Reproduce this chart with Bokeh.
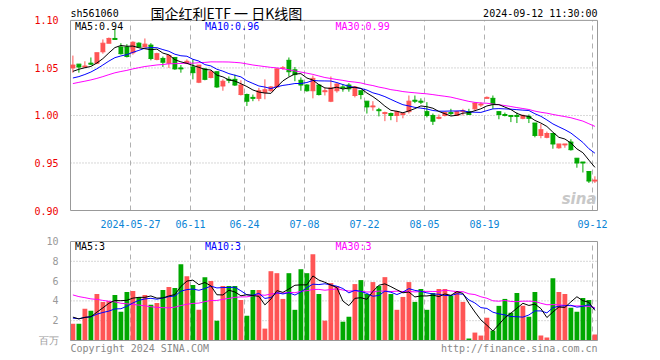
import numpy as np
import pandas as pd
from bokeh.plotting import figure
from bokeh.models import Range1d, FixedTicker, Label
from bokeh.layouts import column
from bokeh.embed import file_html
from bokeh.resources import INLINE

# ---------------- data ----------------
tick_index = [10, 20, 29, 39, 49, 59, 69, 87]
tick_labels = ["2024-05-27", "06-11", "06-24", "07-08", "07-22", "08-05", "08-19", "09-12"]

opens = [1.050, 1.054, 1.051, 1.055, 1.055, 1.067, 1.076, 1.081, 1.072, 1.072,
         1.066, 1.076, 1.072, 1.074, 1.059, 1.060, 1.055, 1.061, 1.050, 1.055,
         1.051, 1.035, 1.049, 1.040, 1.046, 1.031, 1.038, 1.038, 1.022, 1.022,
         1.019, 1.018, 1.024, 1.026, 1.030, 1.050, 1.058, 1.048, 1.037, 1.032,
         1.026, 1.032, 1.025, 1.015, 1.026, 1.030, 1.032, 1.021, 1.026, 1.015,
         1.009, 1.006, 1.002, 1.002, 1.000, 1.001, 1.004, 1.016, 1.015, 1.004,
         1.000, 0.997, 1.000, 1.003, 1.000, 1.004, 1.004, 1.007, 1.011, 1.018,
         1.018, 1.004, 1.001, 1.000, 1.000, 0.997, 0.999, 0.992, 0.979, 0.977,
         0.981, 0.966, 0.969, 0.972, 0.955, 0.951, 0.941, 0.931]
closes = [1.053, 1.051, 1.052, 1.054, 1.066, 1.076, 1.081, 1.080, 1.065, 1.062,
          1.077, 1.072, 1.075, 1.060, 1.065, 1.056, 1.063, 1.049, 1.049, 1.057,
          1.045, 1.053, 1.038, 1.046, 1.030, 1.036, 1.037, 1.032, 1.032, 1.015,
          1.018, 1.026, 1.027, 1.030, 1.049, 1.050, 1.046, 1.043, 1.032, 1.026,
          1.039, 1.022, 1.026, 1.029, 1.033, 1.029, 1.028, 1.030, 1.022, 1.009,
          1.010, 1.005, 1.003, 1.000, 1.004, 1.002, 1.015, 1.015, 1.014, 1.000,
          0.994, 0.998, 1.003, 1.002, 1.004, 1.005, 1.001, 1.013, 1.012, 1.019,
          1.012, 1.001, 1.000, 0.999, 0.999, 1.000, 0.997, 0.979, 0.985, 0.981,
          0.970, 0.970, 0.970, 0.964, 0.950, 0.950, 0.931, 0.932]
highs = [1.063, 1.054, 1.057, 1.061, 1.066, 1.080, 1.082, 1.091, 1.076, 1.075,
         1.078, 1.077, 1.081, 1.076, 1.066, 1.062, 1.064, 1.061, 1.053, 1.059,
         1.059, 1.053, 1.050, 1.048, 1.046, 1.038, 1.041, 1.043, 1.037, 1.023,
         1.022, 1.029, 1.038, 1.031, 1.050, 1.052, 1.061, 1.051, 1.040, 1.033,
         1.042, 1.033, 1.029, 1.041, 1.034, 1.033, 1.034, 1.031, 1.026, 1.015,
         1.015, 1.008, 1.004, 1.003, 1.005, 1.003, 1.021, 1.021, 1.018, 1.014,
         1.002, 1.001, 1.004, 1.007, 1.005, 1.007, 1.007, 1.014, 1.014, 1.020,
         1.021, 1.004, 1.003, 1.000, 1.003, 1.001, 1.001, 0.992, 0.991, 0.983,
         0.981, 0.970, 0.970, 0.975, 0.955, 0.951, 0.941, 0.936]
lows = [1.045, 1.045, 1.050, 1.053, 1.054, 1.065, 1.076, 1.080, 1.064, 1.061,
        1.064, 1.072, 1.072, 1.058, 1.058, 1.051, 1.050, 1.048, 1.045, 1.054,
        1.038, 1.034, 1.037, 1.039, 1.029, 1.026, 1.034, 1.031, 1.021, 1.010,
        1.015, 1.015, 1.017, 1.025, 1.029, 1.048, 1.041, 1.036, 1.026, 1.025,
        1.018, 1.021, 1.021, 1.014, 1.024, 1.025, 1.025, 1.019, 1.017, 1.002,
        1.005, 0.999, 0.994, 0.995, 0.993, 0.997, 1.002, 1.013, 1.012, 0.998,
        0.990, 0.996, 0.999, 1.000, 1.000, 1.000, 1.001, 1.005, 1.009, 1.018,
        1.007, 0.996, 0.999, 0.993, 0.992, 0.996, 0.992, 0.977, 0.976, 0.976,
        0.965, 0.965, 0.966, 0.963, 0.945, 0.940, 0.929, 0.929]
volumes = [1.7, 1.7, 3.2, 3.0, 4.7, 3.9, 4.0, 4.6, 2.9, 4.9,
           5.0, 4.4, 4.6, 3.6, 3.8, 5.1, 5.4, 5.3, 7.7, 6.5,
           5.6, 3.1, 6.4, 6.0, 2.0, 5.5, 5.5, 5.5, 4.1, 2.5,
           5.1, 5.1, 1.2, 7.0, 6.8, 4.2, 6.8, 3.1, 7.2, 6.8,
           8.7, 4.7, 2.0, 5.8, 5.5, 1.9, 2.4, 5.7, 6.1, 4.7,
           5.9, 5.5, 6.4, 4.7, 3.1, 4.4, 5.9, 3.9, 5.2, 3.1,
           4.8, 5.2, 5.2, 4.5, 5.0, 3.9, 0.2, 0.8, 0.5, 2.3,
           1.0, 3.5, 4.2, 2.8, 4.8, 3.5, 2.4, 4.9, 0.5, 0.3,
           6.3, 4.9, 4.7, 3.3, 2.9, 4.3, 4.1, 0.6]
# sessions before the visible window (estimated from the moving-average lines)
pre_close = [1.012, 1.015, 1.014, 1.018, 1.020, 1.019, 1.022, 1.024, 1.026, 1.030,
             1.034, 1.038, 1.036, 1.040, 1.042, 1.041, 1.044, 1.043, 1.046, 1.048,
             1.036, 1.030, 1.028, 1.032, 1.036, 1.040, 1.044, 1.047, 1.048]
pre_volume = [6.8, 6.4, 6.7, 6.2, 7.0, 6.5, 6.5, 7.2, 6.4, 6.9,
              6.6, 6.7, 6.3, 5.8, 6.1, 5.7, 3.4, 2.8, 2.6, 2.9,
              2.3, 1.9, 2.4, 2.0, 2.2, 2.6, 2.4, 2.7, 2.4]

price_ticks = [0.90, 0.95, 1.00, 1.05, 1.10]
price_grid = [0.95, 1.00, 1.05]
vol_ticks = [0, 2, 4, 6, 8, 10]
vol_grid = [2, 4, 6, 8]
price_ma_text = ["MA5:0.94", "MA10:0.96", "MA30:0.99"]
vol_ma_text = ["MA5:3", "MA10:3", "MA30:3"]

# ---------------- styling ----------------
UP = "#ff5555"
DOWN = "#00a800"
MONO = "DejaVu Sans Mono"
CJK = "Noto Sans CJK SC"
GRID = "#b0b0b0"
BORDER = "#999999"
W = 658

n = len(closes)
x = np.arange(n)
o = np.array(opens); c = np.array(closes)
colors = [UP if cc >= oo else DOWN for oo, cc in zip(o, c)]

def ma(series, w):
    return pd.Series(series).rolling(w).mean().to_numpy()[-n:]

all_c = pre_close + closes
all_v = pre_volume + volumes

PX = 6.0                      # pixels per session
X0 = -0.4                     # left border of the chart box
X1 = X0 + 527 / PX            # right border of the chart box
ticks = [i - 0.4 for i in tick_index]

def px_x(px):
    return X0 + (px - 70) / PX

P_PER_PX = 0.2 / 191.0        # price per pixel
def py_price(py):
    return 1.10 - (py - 20) * P_PER_PX

V_PER_PX = 10 / 99.0          # volume per pixel
def py_vol(py):
    return 10 - (py - 241) * V_PER_PX

# ---------------- price panel (frame reaches to the top of the page) ----------------
p = figure(width=W, height=230, title=None, output_backend="svg", toolbar_location=None,
           x_range=Range1d(X0 - 1 / PX, X1 + 1 / PX),
           y_range=Range1d(0.90 - P_PER_PX, py_price(0)),
           min_border_left=69, min_border_right=W - 598, min_border_top=0, min_border_bottom=18)
p.background_fill_color = "white"
p.border_fill_color = "white"
p.outline_line_color = None
p.grid.visible = False

p.yaxis.ticker = FixedTicker(ticks=price_ticks)
p.yaxis.major_label_overrides = {t: "%.2f" % t for t in price_ticks}
p.xaxis.ticker = FixedTicker(ticks=ticks)
p.xaxis.major_label_overrides = {t: l for t, l in zip(ticks, tick_labels)}
for ax, col in ((p.yaxis, "#ee0000"), (p.xaxis, "#0a84d6")):
    ax.axis_line_color = None
    ax.major_tick_line_color = None
    ax.minor_tick_line_color = None
    ax.major_label_text_font = MONO
    ax.major_label_text_font_size = "10px"
    ax.major_label_text_color = col
p.yaxis.major_label_standoff = 5
p.xaxis.major_label_standoff = 2

# grid and box
p.segment(x0=ticks, y0=0.90, x1=ticks, y1=1.10, line_color=GRID, line_dash="5 4", line_width=1)
p.segment(x0=X0, y0=price_grid, x1=X1, y1=price_grid, line_color=GRID, line_dash="1 2", line_width=1)
p.quad(left=X0, right=X1, bottom=0.90, top=1.10, fill_color=None, line_color=BORDER, line_width=1)

body_top = np.maximum(o, c)
body_bot = np.minimum(o, c)
p.segment(x0=x, y0=highs, x1=x, y1=lows, line_color=colors, line_width=1)
p.vbar(x=x, top=body_top, bottom=body_bot, width=0.8, fill_color=colors, line_color=None)
p.segment(x0=x - 0.4, y0=c, x1=x + 0.4, y1=c, line_color=colors, line_width=1)
p.segment(x0=x - 0.4, y0=o, x1=x + 0.4, y1=o, line_color=colors, line_width=1)

p.line(x, ma(all_c, 30), line_color="#ff00ff", line_width=1)
p.line(x, ma(all_c, 10), line_color="#0000ff", line_width=1)
p.line(x, ma(all_c, 5), line_color="black", line_width=1)

for txt, xx, col in zip(price_ma_text, (74.5, 204.5, 335), ("black", "#0000ff", "#ff00ff")):
    p.add_layout(Label(x=px_x(xx), y=py_price(26.5), text=txt, text_font=MONO,
                       text_font_size="10px", text_color=col, text_baseline="middle"))

p.add_layout(Label(x=px_x(70), y=py_price(13), text="sh561060", text_font=MONO,
                   text_font_size="10px", text_color="black", text_baseline="middle"))
p.add_layout(Label(x=px_x(150), y=py_price(12.5), text="国企红利ETF 一 日K线图", text_font=CJK,
                   text_font_size="14px", text_color="black", text_baseline="middle"))
p.add_layout(Label(x=px_x(597), y=py_price(13), text="2024-09-12 11:30:00", text_font=MONO,
                   text_font_size="10px", text_color="black", text_baseline="middle",
                   text_align="right"))
p.add_layout(Label(x=px_x(596), y=py_price(199), text="sina", text_font="DejaVu Sans",
                   text_font_size="15px", text_font_style="bold italic", text_color="#c8c8c8",
                   text_baseline="middle", text_align="right"))

# ---------------- volume panel (frame reaches to the bottom of the page) ----------------
v = figure(width=W, height=128, title=None, output_backend="svg", toolbar_location=None,
           x_range=p.x_range, y_range=Range1d(py_vol(358), py_vol(240)), x_axis_location=None,
           min_border_left=69, min_border_right=W - 598, min_border_top=10, min_border_bottom=0)
v.background_fill_color = "white"
v.border_fill_color = "white"
v.outline_line_color = None
v.grid.visible = False

v.yaxis.ticker = FixedTicker(ticks=vol_ticks)
v.yaxis.major_label_overrides = {0: "百万"}
v.yaxis.axis_line_color = None
v.yaxis.major_tick_line_color = None
v.yaxis.minor_tick_line_color = None
v.yaxis.major_label_text_font = MONO
v.yaxis.major_label_text_font_size = "10px"
v.yaxis.major_label_text_color = "#999999"
v.yaxis.major_label_standoff = 5

v.segment(x0=ticks, y0=0, x1=ticks, y1=10, line_color=GRID, line_dash="5 4", line_width=1)
v.segment(x0=X0, y0=vol_grid, x1=X1, y1=vol_grid, line_color=GRID, line_dash="1 2", line_width=1)

v.vbar(x=x, top=volumes, bottom=0, width=0.8, fill_color=colors, line_color=None)
v.line(x, ma(all_v, 30), line_color="#ff00ff", line_width=1)
v.line(x, ma(all_v, 10), line_color="#0000ff", line_width=1)
v.line(x, ma(all_v, 5), line_color="black", line_width=1)
v.quad(left=X0, right=X1, bottom=0, top=10, fill_color=None, line_color=BORDER, line_width=1)

for txt, xx, col in zip(vol_ma_text, (74.5, 204.5, 335), ("black", "#0000ff", "#ff00ff")):
    v.add_layout(Label(x=px_x(xx), y=py_vol(246), text=txt, text_font=MONO,
                       text_font_size="10px", text_color=col, text_baseline="middle"))
v.add_layout(Label(x=px_x(70), y=py_vol(347.5), text="Copyright 2024 SINA.COM", text_font=MONO,
                   text_font_size="10px", text_color="#888888", text_baseline="middle"))
v.add_layout(Label(x=px_x(597), y=py_vol(347.5), text="http://finance.sina.com.cn", text_font=MONO,
                   text_font_size="10px", text_color="#888888", text_baseline="middle",
                   text_align="right"))

layout = column(p, v, spacing=0)
open("out.html", "w").write(file_html(layout, INLINE))
